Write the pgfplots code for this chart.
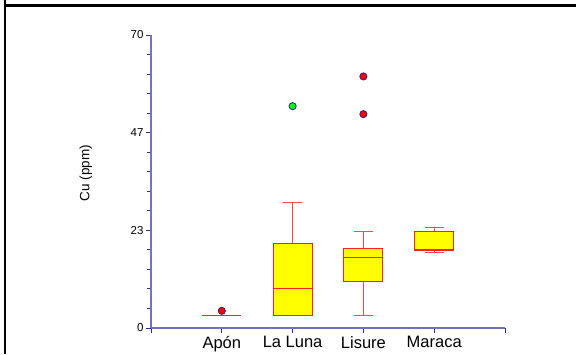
\documentclass[border=0pt]{standalone}
\usepackage{fontspec}
\setmainfont{Liberation Sans}
\usepackage{pgfplots}
\pgfplotsset{compat=1.18}
\definecolor{axisblue}{HTML}{7272C4}
\definecolor{tickblue}{HTML}{2A2A9A}
\definecolor{boxred}{HTML}{FF2020}
\definecolor{whiskred}{HTML}{FF4848}
\definecolor{boxyellow}{HTML}{FFFF00}
\definecolor{outred}{HTML}{FF0000}
\definecolor{outgreen}{HTML}{00FF00}
\definecolor{outedge}{HTML}{24248C}

\begin{document}
\begin{tikzpicture}
\useasboundingbox (0pt,0pt) rectangle (576pt,354pt);
% table frame around the figure
\draw[line width=2.2pt] (5pt,0pt) -- (5pt,354pt);
\draw[line width=2.2pt] (5pt,348.5pt) -- (576pt,348.5pt);
\begin{axis}[
  at={(151pt,26pt)}, anchor=origin,
  scale only axis, width=354pt, height=293pt,
  xmin=0, xmax=5, ymin=0, ymax=70,
  axis lines*=left, clip=false,
  axis line style={axisblue, line width=1.3pt, -},
  unbounded coords=jump,
  xtick={0,1,2,3,4,5},
  xticklabels={,Apón,La Luna,Lisure,Maraca,},
  ytick={0,23.3333,46.6667,70},
  yticklabels={0,23,47,70},
  minor ytick={4.6667,9.3333,14,18.6667,28,32.6667,37.3333,42,51.3333,56,60.6667,65.3333},
  tick align=outside,
  major tick length=5pt, minor tick length=4pt,
  every tick/.style={tickblue, line width=0.9pt},
  /pgf/number format/assume math mode=true,
  yticklabel style={font=\fontsize{11.5}{13}\selectfont, xshift=1pt},
  xticklabel style={font=\fontsize{16.5}{18}\selectfont},
]
% outliers
\addplot[only marks, mark=*, mark size=3.6pt, draw=outedge, fill=outred, line width=0.8pt]
  coordinates {(1,4.1) (3,60.1) (3,51.1)};
\addplot[only marks, mark=*, mark size=3.6pt, draw=outedge, fill=outgreen, line width=0.8pt]
  coordinates {(2,53.0)};
% whiskers and caps (box half width 0.275, cap half width 0.135)
\addplot[draw=whiskred, line width=1pt, mark=none] coordinates {
  (2,20.1) (2,30.0) (2,nan) (1.865,30.0) (2.135,30.0) (2,nan)
  (3,18.9) (3,23.0) (3,nan) (2.865,23.0) (3.135,23.0) (3,nan)
  (3,11.2) (3,3.0) (3,nan) (2.865,3.0) (3.135,3.0) (3,nan)
  (4,23.1) (4,24.05) (4,nan) (3.865,24.05) (4.135,24.05) (4,nan)
  (4,18.6) (4,18.1) (4,nan) (3.865,18.1) (4.135,18.1)
};
% boxes: lower to upper quartile
\addplot[draw=boxred, fill=boxyellow, line width=1pt, mark=none]
  coordinates {(1.725,3.0) (2.275,3.0) (2.275,20.1) (1.725,20.1)} -- cycle;
\addplot[draw=boxred, fill=boxyellow, line width=1pt, mark=none]
  coordinates {(2.725,11.2) (3.275,11.2) (3.275,18.9) (2.725,18.9)} -- cycle;
\addplot[draw=boxred, fill=boxyellow, line width=1pt, mark=none]
  coordinates {(3.725,18.6) (4.275,18.6) (4.275,23.1) (3.725,23.1)} -- cycle;
% medians (Apón collapses to a single line)
\addplot[draw=boxred, line width=1pt, mark=none] coordinates {
  (0.725,2.95) (1.275,2.95) (1,nan)
  (1.725,9.5) (2.275,9.5) (2,nan)
  (2.725,16.9) (3.275,16.9) (3,nan)
  (3.725,18.8) (4.275,18.8)
};
\end{axis}
\node[rotate=90, font=\fontsize{13.5}{15}\selectfont] at (86pt,181pt) {Cu (ppm)};
\end{tikzpicture}
\end{document}
